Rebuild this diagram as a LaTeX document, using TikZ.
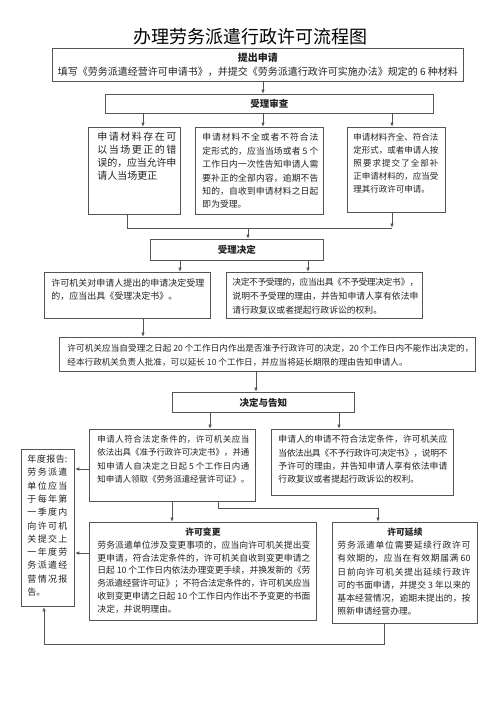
\documentclass[tikz,border=0pt]{standalone}
\usepackage{fontspec}
\setmainfont{Noto Sans CJK SC}
\usetikzlibrary{arrows.meta}
\XeTeXlinebreaklocale "zh"
\XeTeXlinebreakskip=0pt plus 3pt minus 1pt
\tolerance=10000 \hbadness=10000 \hfuzz=30pt \vbadness=10000 \vfuzz=30pt
\definecolor{linec}{RGB}{85,85,85}
\definecolor{txt}{RGB}{35,35,35}
\newcommand\myfs[2]{\fontsize{#1pt}{#2pt}\selectfont}
\newcommand\tb[6]{\parbox[c][#2pt][t]{#1pt}{\leftskip=#3pt\rightskip=#4pt\relax\vspace*{#5pt}#6}}
\begin{document}
\begin{tikzpicture}[x=1pt,y=-1pt,
  box/.style={draw=linec, line width=0.9pt, anchor=north west, inner sep=0pt, text=txt},
  hd/.style={box, align=center, font={\bfseries\myfs{9.5}{12}}},
  ln/.style={draw=linec, line width=0.9pt},
  arr/.style={ln, -{Latex[length=4.5pt,width=3.6pt]}}]
\useasboundingbox (0,0) rectangle (500,707);
\fill[white] (0,0) rectangle (500,707);

\node[text=black, font={\myfs{18}{20}}] (T) at (250,37) {办理劳务派遣行政许可流程图};

\node[box, minimum width=411pt, minimum height=33pt, align=center, font={\myfs{10}{14}}] (B1) at (52,48)
 {{\bfseries 提出申请}\\填写《劳务派遣经营许可申请书》，并提交《劳务派遣行政许可实施办法》规定的 6 种材料};

\node[hd, minimum width=328pt, minimum height=19pt] (B2) at (105,94) {受理审查};

\node[box, font={\myfs{10}{13}}] (B3a) at (88,127) {\tb{92}{87}{9}{4}{5}{申请材料存在可\linebreak 以当场更正的错\linebreak 误的，应当允许申\linebreak 请人当场更正}};

\node[box, font={\myfs{8.8}{13.4}}] (B3b) at (195,127) {\tb{128}{87}{7}{5}{6}{申请材料不全或者不符合法\linebreak 定形式的，应当当场或者 5 个\linebreak 工作日内一次性告知申请人需\linebreak 要补正的全部内容，逾期不告\linebreak 知的，自收到申请材料之日起\linebreak 即为受理。}};

\node[box, font={\myfs{8.5}{13}}] (B3c) at (347,127) {\tb{98}{85}{6}{7}{5.5}{申请材料齐全、符合法\linebreak 定形式，或者申请人按\linebreak 照要求提交了全部补\linebreak 正申请材料的，应当受\linebreak 理其行政许可申请。}};

\node[hd, minimum width=173pt, minimum height=21pt] (B4) at (150,239) {受理决定};

\node[box, font={\myfs{9}{13}}] (B5a) at (44,272) {\tb{166}{46}{7}{6}{6.5}{许可机关对申请人提出的申请决定受理\linebreak 的，应当出具《受理决定书》。}};

\node[box, font={\myfs{8.8}{14}}] (B5b) at (226,272) {\tb{196}{46}{6}{4}{5.5}{决定不予受理的，应当出具《不予受理决定书》，\linebreak 说明不予受理的理由，并告知申请人享有依法申\linebreak 请行政复议或者提起行政诉讼的权利。}};

\node[box, font={\myfs{8.6}{14}}] (B6) at (59,337) {\tb{416}{34}{8}{2}{6.5}{许可机关应当自受理之日起 20 个工作日内作出是否准予行政许可的决定，20 个工作日内不能作出决定的，\linebreak 经本行政机关负责人批准，可以延长 10 个工作日，并应当将延长期限的理由告知申请人。}};

\node[hd, minimum width=182pt, minimum height=20pt] (B7) at (172,392) {决定与告知};

\node[box, font={\myfs{8.5}{13.3}}] (B8a) at (89,429) {\tb{166}{72}{8}{6}{6}{申请人符合法定条件的，许可机关应当\linebreak 依法出具《准予行政许可决定书》，并通\linebreak 知申请人自决定之日起 5 个工作日内通\linebreak 知申请人领取《劳务派遣经营许可证》。}};

\node[box, font={\myfs{8.8}{13.3}}] (B8b) at (271,429) {\tb{182}{66}{7}{6}{6}{申请人的申请不符合法定条件，许可机关应\linebreak 当依法出具《不予行政许可决定书》，说明不\linebreak 予许可的理由，并告知申请人享有依法申请\linebreak 行政复议或者提起行政诉讼的权利。}};

\node[box, font={\myfs{9}{13.3}}] (B9) at (21,449) {\tb{53}{157}{6}{7}{5.5}{年度报告:\linebreak 劳务派遣\linebreak 单位应当\linebreak 于每年第\linebreak 一季度内\linebreak 向许可机\linebreak 关提交上\linebreak 一年度劳\linebreak 务派遣经\linebreak 营情况报\linebreak 告。}};

\node[box, font={\myfs{8.8}{12.8}}] (B10a) at (89,522) {\tb{227}{98}{8}{6}{5.5}{{\centering\bfseries 许可变更\par}劳务派遣单位涉及变更事项的，应当向许可机关提出变\linebreak 更申请，符合法定条件的，许可机关自收到变更申请之\linebreak 日起 10 个工作日内依法办理变更手续，并换发新的《劳\linebreak 务派遣经营许可证》；不符合法定条件的，许可机关应当\linebreak 收到变更申请之日起 10 个工作日内作出不予变更的书面\linebreak 决定，并说明理由。}};

\node[box, font={\myfs{8.8}{13.2}}] (B10b) at (332,522) {\tb{145}{101}{5}{7}{5.5}{{\centering\bfseries 许可延续\par}劳务派遣单位需要延续行政许可\linebreak 有效期的，应当在有效期届满 60\linebreak 日前向许可机关提出延续行政许\linebreak 可的书面申请，并提交 3 年以来的\linebreak 基本经营情况，逾期未提出的，按\linebreak 照新申请经营办理。}};

% guide coordinates
\coordinate (cA) at (263,0);
\coordinate (cB) at (143,0);
\coordinate (cC) at (392,0);
\coordinate (cD) at (127,0);
\coordinate (cE) at (248,0);
\coordinate (cF) at (180,0);
\coordinate (cG) at (308,0);
\coordinate (cH) at (256,0);
\coordinate (cI) at (210,0);
\coordinate (cJ) at (339,0);
\coordinate (cK) at (172,0);
\coordinate (cL) at (218,0);
\coordinate (cM) at (378,0);
\coordinate (cN) at (384,0);
\coordinate (cO) at (44,0);
\coordinate (rA) at (0,228);
\coordinate (rB) at (0,469);
\coordinate (rC) at (0,508);
\coordinate (rD) at (0,553);
\coordinate (rE) at (0,644);

\draw[arr] (B1.south -| cA) -- (B2.north -| cA);
\draw[arr] (B2.south -| cB) -- (B3a.north -| cB);
\draw[arr] (B2.south -| cA) -- (B3b.north -| cA);
\draw[arr] (B2.south -| cC) -- (B3c.north -| cC);
\draw[ln] (B3a.south -| cD) -- (cD |- rA) -- (cC |- rA);
\draw[arr] (B3c.south -| cC) -- (cC |- rA);
\draw[arr] (cE |- rA) -- (B4.north -| cE);
\draw[arr] (B4.south -| cF) -- (B5a.north -| cF);
\draw[arr] (B4.south -| cG) -- (B5b.north -| cG);
\draw[arr] (B5a.south -| cB) -- (B6.north -| cB);
\draw[arr] (B6.south -| cH) -- (B7.north -| cH);
\draw[arr] (B7.south -| cI) -- (B8a.north -| cI);
\draw[arr] (B7.south -| cJ) -- (B8b.north -| cJ);
\draw[arr] (B8a.west |- rB) -- (B9.east |- rB);
\draw[arr] (B8a.south -| cK) -- (B10a.north -| cK);
\draw[arr] (B8a.south -| cL) -- (cL |- rC) -- (cM |- rC) -- (B10b.north -| cM);
\draw[arr] (B10a.west |- rD) -- (B9.east |- rD);
\draw[arr] (B10b.south -| cN) -- (cN |- rE) -- (cO |- rE) -- (B9.south -| cO);
\end{tikzpicture}
\end{document}
